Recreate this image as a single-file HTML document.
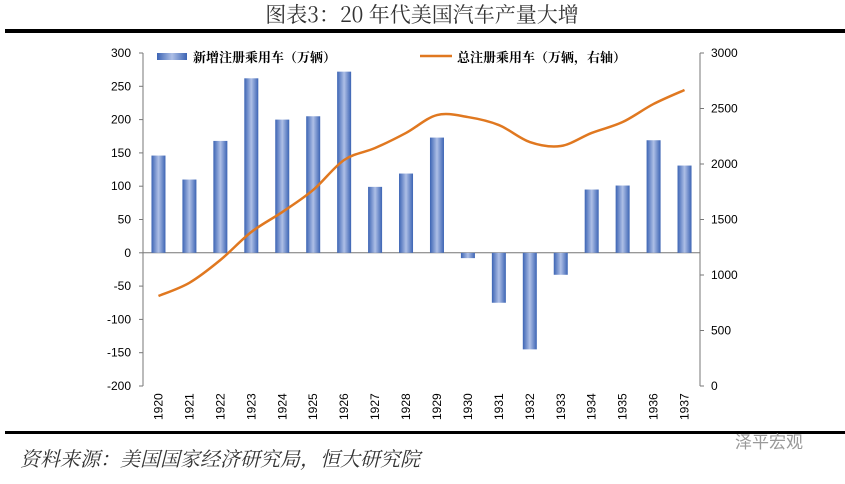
<!DOCTYPE html>
<html><head><meta charset="utf-8"><style>
body{margin:0;background:#fff;width:845px;height:479px;overflow:hidden;font-family:"Liberation Sans","Noto Sans CJK SC",sans-serif}
</style></head><body>
<svg width="845" height="479">
<defs><linearGradient id="bg" x1="0" x2="1" y1="0" y2="0">
<stop offset="0" stop-color="#3c64b4"/><stop offset="0.5" stop-color="#aebfe6"/><stop offset="1" stop-color="#3c64b4"/></linearGradient></defs>
<text x="422" y="22" text-anchor="middle" font-size="21" font-family="Noto Serif CJK SC,serif" fill="#333">图表3：20 年代美国汽车产量大增</text>
<rect x="5" y="29" width="840" height="4" fill="#000"/>
<rect x="5" y="431" width="840" height="3" fill="#000"/>
<text x="20" y="466" font-size="20" font-style="italic" font-family="Noto Serif CJK SC,serif" fill="#333">资料来源：美国国家经济研究局，恒大研究院</text>
<text x="735" y="448" font-size="17" fill="#999">泽平宏观</text>
<g id="axes" font-size="12" fill="#000"></g>
<g id="bars"></g>
<path id="line" fill="none" stroke="#e07820" stroke-width="2.5"/>
<g font-size="13" font-weight="bold" font-family="Noto Serif CJK SC,serif">
<rect x="157" y="53" width="30" height="7" fill="url(#bg)"/>
<text x="193" y="62">新增注册乘用车（万辆）</text>
<line x1="420" y1="56" x2="452" y2="56" stroke="#e07820" stroke-width="2.5"/>
<text x="457" y="62">总注册乘用车（万辆，右轴）</text>
</g>
</svg>
<script>
const years=[1920,1921,1922,1923,1924,1925,1926,1927,1928,1929,1930,1931,1932,1933,1934,1935,1936,1937];
const newReg=[146,110,168,262,200,205,272,99,119,173,-8,-75,-145,-33,95,101,169,131];
const totalReg=[811,930,1135,1387,1567,1766,2036,2144,2280,2441,2423,2351,2198,2162,2280,2378,2541,2667];
const leftTicks=[300,250,200,150,100,50,0,-50,-100,-150,-200];
const rightTicks=[3000,2500,2000,1500,1000,500,0];
const NS="http://www.w3.org/2000/svg";
const X0=143,X1=700,Y0=53,Y1=386,band=(X1-X0)/years.length;
const xc=i=>X0+band*(i+0.5);
const yl=v=>Y0+(300-v)/500*(Y1-Y0);
const yr=v=>Y0+(3000-v)/3000*(Y1-Y0);
function mk(t,a,p){const e=document.createElementNS(NS,t);for(const k in a)e.setAttribute(k,a[k]);p.appendChild(e);return e;}
const ax=document.getElementById('axes');
let e=mk('line',{x1:X0,y1:Y0,x2:X0,y2:Y1,stroke:'#777'},ax);


e=mk('line',{x1:X1,y1:Y0,x2:X1,y2:Y1,stroke:'#777'},ax);


e=mk('line',{x1:X0,y1:yl(0),x2:X1,y2:yl(0),stroke:'#777'},ax);


leftTicks.forEach(v=>{mk('line',{x1:X0-4,x2:X0,y1:yl(v),y2:yl(v),stroke:'#777'},ax);
const t=mk('text',{x:X0-12,y:yl(v)+4,'text-anchor':'end'},ax);t.textContent=v;

});
rightTicks.forEach(v=>{mk('line',{x1:X1,x2:X1+4,y1:yr(v),y2:yr(v),stroke:'#777'},ax);
const t=mk('text',{x:X1+11,y:yr(v)+4},ax);t.textContent=v;

});
years.forEach((y,i)=>{const t=mk('text',{x:0,y:0,transform:`translate(${xc(i)+4},${Y1+34}) rotate(-90)`},ax);t.textContent=y;

});
const bg=document.getElementById('bars');
newReg.forEach((v,i)=>{const y0=yl(0),y=yl(v);
const r=mk('rect',{x:xc(i)-7,y:Math.min(y,y0),width:14,height:Math.abs(y-y0),fill:'url(#bg)'},bg);

});
const pts=totalReg.map((v,i)=>[xc(i),yr(v)]);
let d=`M${pts[0][0]},${pts[0][1]}`;
for(let i=0;i<pts.length-1;i++){const p0=pts[i-1]||pts[i],p1=pts[i],p2=pts[i+1],p3=pts[i+2]||p2;
d+=` C${p1[0]+(p2[0]-p0[0])/6},${p1[1]+(p2[1]-p0[1])/6} ${p2[0]-(p3[0]-p1[0])/6},${p2[1]-(p3[1]-p1[1])/6} ${p2[0]},${p2[1]}`;}
document.getElementById('line').setAttribute('d',d);
</script>
</body></html>
